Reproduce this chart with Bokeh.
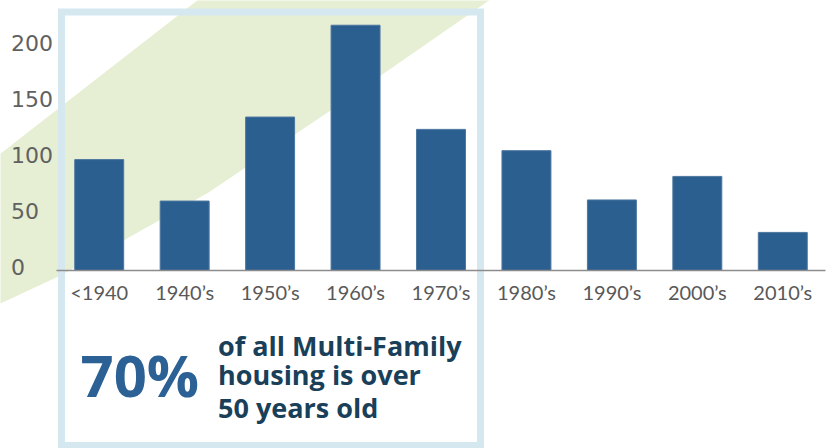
from bokeh.plotting import figure
from bokeh.models import Range1d, Label, PolyAnnotation
from bokeh.core.properties import value
from bokeh.embed import file_html
from bokeh.resources import INLINE

# ---- data ----
categories = ["<1940", "1940\u2019s", "1950\u2019s", "1960\u2019s", "1970\u2019s",
              "1980\u2019s", "1990\u2019s", "2000\u2019s", "2010\u2019s"]
units = [99, 62, 137, 219, 126, 107, 63, 84, 34]
y_ticks = [0, 50, 100, 150, 200]
big_stat = "70%"
stat_lines = ["of all Multi-Family", "housing is over", "50 years old"]

# ---- layout helpers (page pixel -> data coordinates) ----
W, H = 827, 448
FRAME_L, FRAME_R = 56, 825          # page px of the category band
BASE_Y = 270                         # page px of value 0
PX_PER_UNIT = 1.12
STEP = (FRAME_R - FRAME_L) / len(categories)


def dx(X):
    return (X - FRAME_L) / STEP


def dy(Y):
    return (BASE_Y - Y) / PX_PER_UNIT


xpos = [i + 0.5 for i in range(len(categories))]

p = figure(x_range=Range1d(dx(0), dx(W)), y_range=Range1d(dy(H), dy(0)),
           width=W, height=H, output_backend="svg", toolbar_location=None,
           min_border=0, x_axis_location=None, y_axis_location=None,
           background_fill_color="white", border_fill_color="white")
p.outline_line_color = None
p.grid.grid_line_color = None

# background band
band_px = [(-10, 161), (207, -8), (500, -8), (330, 110), (208, 192),
           (123, 240), (60, 275), (0, 303), (-10, 310)]
p.add_layout(PolyAnnotation(xs=[dx(a) for a, b in band_px], ys=[dy(b) for a, b in band_px],
                            fill_color="#e6efd4", fill_alpha=1.0, line_alpha=0,
                            level="underlay"))

# highlight box
box_px = [(61, 11.5), (480, 11.5), (480, 445), (61, 445), (61, 11.5)]
p.add_layout(PolyAnnotation(xs=[dx(a) for a, b in box_px], ys=[dy(b) for a, b in box_px],
                            fill_alpha=0, line_color="#d6e8ef", line_alpha=1.0,
                            line_width=7, line_join="miter", level="underlay"))

# bars
p.vbar(x=xpos, top=units, width=0.573, fill_color="#2b5f8f",
       line_color="#4d77a0", line_width=1)

# x axis line and tick labels
p.segment(x0=[0], y0=[0], x1=[len(categories)], y1=[0],
          line_color="#8c8c8c", line_width=1.5)
p.text(x=xpos, y=[dy(291)] * len(categories), text=categories,
       text_align="center", text_baseline="middle",
       text_font=value("Lato"), text_font_size="20px", text_color="#595959")

# y tick labels
p.text(x=[dx(10.5)] * len(y_ticks), y=[v + 3.5 / PX_PER_UNIT for v in y_ticks],
       text=[str(v) for v in y_ticks], text_align="left", text_baseline="middle",
       text_font=value("DejaVu Sans"), text_font_size="22px", text_color="#616161")

p.add_layout(Label(x=dx(80), y=dy(374), text=big_stat, text_align="left",
                   text_baseline="middle", text_font="Open Sans",
                   text_font_style="bold", text_font_size="58px",
                   text_color="#2b6195"))

for line, mid in zip(stat_lines, [345, 374, 406.5]):
    p.add_layout(Label(x=dx(217.5), y=dy(mid), text=line, text_align="left",
                       text_baseline="middle", text_font="Open Sans",
                       text_font_style="bold", text_font_size="27px",
                       text_color="#1a4059"))

open("out.html", "w").write(file_html(p, INLINE))
